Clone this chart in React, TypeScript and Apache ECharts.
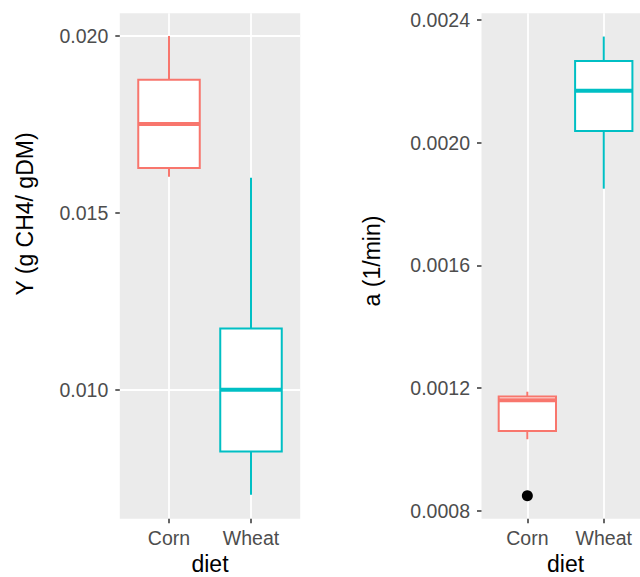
import React, { useEffect, useRef } from "react";
import * as echarts from "echarts";

const categories = ["Corn", "Wheat"];
const colors = ["#F8766D", "#00BFC4"];
// [lower whisker, Q1, median, Q3, upper whisker]
const yStats = [
  [0.01602, 0.01627, 0.01751, 0.01876, 0.02],
  [0.00703, 0.00825, 0.01, 0.01173, 0.01599],
];
const aStats = [
  [0.001033, 0.00106, 0.00116, 0.001172, 0.001188],
  [0.00185, 0.002038, 0.002169, 0.002266, 0.002346],
];
// [category index, value]
const aOutliers = [[0, 0.000849]];

const yTicks = [0.01, 0.015, 0.02];
const yMinor = [0.0075, 0.0125, 0.0175];
const aTicks = [0.0008, 0.0012, 0.0016, 0.002, 0.0024];
const aMinor = [0.001, 0.0014, 0.0018, 0.0022];

const FONT = "'Liberation Sans', Arial, Helvetica, sans-serif";

function boxRender(params: any, api: any) {
  const x = api.value(0);
  const lo = api.coord([x, api.value(1)]);
  const q1 = api.coord([x, api.value(2)]);
  const med = api.coord([x, api.value(3)]);
  const q3 = api.coord([x, api.value(4)]);
  const hi = api.coord([x, api.value(5)]);
  const half = api.size([0.75, 0])[0] / 2;
  const color = colors[params.dataIndex];
  return {
    type: "group",
    children: [
      { type: "line", shape: { x1: hi[0], y1: hi[1], x2: q3[0], y2: q3[1] }, style: { stroke: color, lineWidth: 2 } },
      { type: "line", shape: { x1: q1[0], y1: q1[1], x2: lo[0], y2: lo[1] }, style: { stroke: color, lineWidth: 2 } },
      {
        type: "rect",
        shape: { x: q3[0] - half, y: q3[1], width: 2 * half, height: q1[1] - q3[1] },
        style: { fill: "#ffffff", stroke: color, lineWidth: 2 },
      },
      {
        type: "line",
        shape: { x1: med[0] - half, y1: med[1], x2: med[0] + half, y2: med[1] },
        style: { stroke: color, lineWidth: 4 },
      },
    ],
  };
}

function gridLines(major: number[], minor: number[]) {
  const data: any[] = [];
  major.forEach((v) => data.push({ yAxis: v, lineStyle: { width: 1.8 } }));
  minor.forEach((v) => data.push({ yAxis: v, lineStyle: { width: 0.9 } }));
  [1, 2].forEach((v) => data.push({ xAxis: v, lineStyle: { width: 1.8 } }));
  return {
    z: 0,
    silent: true,
    symbol: ["none", "none"],
    label: { show: false },
    emphasis: { disabled: true },
    lineStyle: { color: "#ffffff", type: "solid" },
    data,
  };
}

function xAxisCfg(gridIndex: number) {
  return {
    type: "value",
    gridIndex,
    min: 0.4,
    max: 2.6,
    name: "diet",
    nameLocation: "middle",
    nameGap: 35.5,
    nameTextStyle: { color: "#000", fontSize: 23, lineHeight: 18, fontFamily: FONT },
    axisLine: { show: false },
    splitLine: { show: false },
    axisTick: { show: true, customValues: [1, 2], length: 4.5, lineStyle: { color: "#333", width: 1.5 } },
    axisLabel: {
      customValues: [1, 2],
      formatter: (v: number) => categories[Math.round(v) - 1] ?? "",
      color: "#4D4D4D",
      fontSize: 19.5,
      fontFamily: FONT,
      margin: 9,
    },
  };
}

function yAxisCfg(gridIndex: number, min: number, max: number, ticks: number[], digits: number) {
  return {
    type: "value",
    gridIndex,
    min,
    max,
    axisLine: { show: false },
    splitLine: { show: false },
    axisTick: { show: true, customValues: ticks, length: 4.5, lineStyle: { color: "#333", width: 1.5 } },
    axisLabel: {
      customValues: ticks,
      formatter: (v: number) => v.toFixed(digits),
      color: "#4D4D4D",
      fontSize: 19.5,
      fontFamily: FONT,
      margin: 11.5,
    },
  };
}

export default function App() {
  const ref = useRef<HTMLDivElement>(null);
  useEffect(() => {
    if (!ref.current) return;
    const chart = echarts.init(ref.current, null, { renderer: "svg" });
    chart.setOption({
      animation: false,
      backgroundColor: "#ffffff",
      textStyle: { fontFamily: FONT },
      grid: [
        {
          left: 119.8, top: 13.3, width: 180.4, bottom: 58.3,
          show: true, backgroundColor: "#EBEBEB", borderWidth: 0, outerBoundsMode: "none", containLabel: false,
        },
        {
          left: 481.5, top: 13.3, width: 168.1, bottom: 58.3,
          show: true, backgroundColor: "#EBEBEB", borderWidth: 0, outerBoundsMode: "none", containLabel: false,
        },
      ],
      xAxis: [xAxisCfg(0), xAxisCfg(1)],
      yAxis: [
        yAxisCfg(0, 0.006353, 0.020642, yTicks, 3),
        yAxisCfg(1, 0.0007739, 0.0024218, aTicks, 4),
      ],
      graphic: [
        {
          type: "text",
          x: 25,
          y: 214,
          rotation: Math.PI / 2,
          style: { text: "Y (g CH4/ gDM)", fill: "#000", font: `23px ${FONT}`, align: "center", verticalAlign: "middle" },
        },
        {
          type: "text",
          x: 372,
          y: 261,
          rotation: Math.PI / 2,
          style: { text: "a (1/min)", fill: "#000", font: `23px ${FONT}`, align: "center", verticalAlign: "middle" },
        },
      ],
      series: [
        {
          type: "scatter",
          xAxisIndex: 0,
          yAxisIndex: 0,
          data: [],
          z: 1,
          silent: true,
          markLine: gridLines(yTicks, yMinor),
        },
        {
          type: "scatter",
          xAxisIndex: 1,
          yAxisIndex: 1,
          data: [],
          z: 1,
          silent: true,
          markLine: gridLines(aTicks, aMinor),
        },
        {
          type: "custom",
          xAxisIndex: 0,
          yAxisIndex: 0,
          z: 3,
          renderItem: boxRender,
          data: yStats.map((s, i) => [i + 1, ...s]),
        },
        {
          type: "custom",
          xAxisIndex: 1,
          yAxisIndex: 1,
          z: 3,
          renderItem: boxRender,
          data: aStats.map((s, i) => [i + 1, ...s]),
        },
        {
          type: "scatter",
          xAxisIndex: 1,
          yAxisIndex: 1,
          z: 4,
          symbolSize: 11,
          itemStyle: { color: "#000", opacity: 1 },
          data: aOutliers.map(([c, v]) => [c + 1, v]),
        },
      ],
    });
    return () => chart.dispose();
  }, []);
  return (
    <div
      ref={ref}
      style={{ position: "fixed", left: 0, top: 0, width: 640, height: 577 }}
    />
  );
}
